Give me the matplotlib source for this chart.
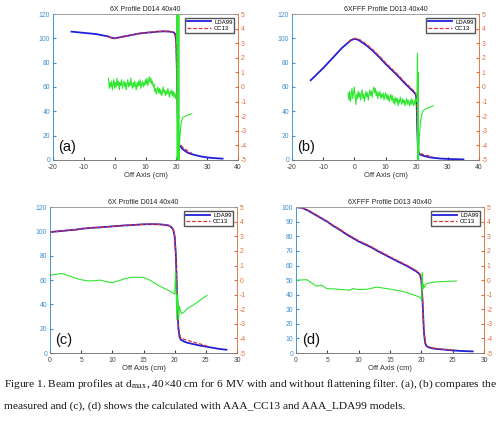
import matplotlib

matplotlib.use("Agg")

import matplotlib.pyplot as plt
import numpy as np

plt.rcParams["font.family"] = ["Liberation Sans", "DejaVu Sans"]
plt.rcParams["mathtext.fontset"] = "stix"
plt.rcParams["axes.unicode_minus"] = False

# ---- panel (a): 6X measured ----
a_lda_x = [-14, -12, -10, -8, -6, -4, -2, -1, 0, 1, 2, 4, 6, 8, 10, 12, 14, 16, 18, 19,
           19.5, 19.8, 20.0, 20.2, 20.4, 20.6, 20.8, 21.0, 21.5, 22, 23, 24, 26, 28, 30, 32, 35]
a_lda_y = [105.5, 105, 104.5, 104, 103.5, 102.5, 101.5, 100.5, 100, 100.5, 101, 102, 103, 104,
           104.5, 105, 105.5, 105.8, 105.5, 105, 104, 102, 95, 70, 40, 22, 15, 12, 10.5, 9,
           7, 5.5, 4, 2.8, 2, 1.5, 1.0]
a_cc_x = [-2, -1, 0, 1, 2, 4, 6, 8, 10, 12, 14, 16, 18, 19, 19.5, 19.8, 20.0, 20.2, 20.4,
          20.6, 20.8, 21.0, 21.5, 22, 23, 24, 25]
a_cc_y = [101.3, 100.3, 99.8, 100.3, 100.8, 102, 103, 104, 104.7, 105.2, 105.6, 105.8, 105.5,
          104.8, 103.5, 100, 90, 65, 38, 22, 16, 13.5, 12, 10.5, 8.5, 6.8, 5.5]
a_diff = [0.6, -0.1, 0.3, 0.0, 0.4, -0.2, 0.2, 0.5, -0.1, 0.3, 0.0, 0.6, 0.1, 0.4, -0.2, 0.3,
          0.1, 0.5, -0.1, 0.2, 0.4, 0.0, 0.3, -0.2, 0.2, 0.5, 0.0, 0.3, 0.1, 0.6, 0.2, -0.1,
          0.3, 0.0, 0.4, 0.1, -0.2, 0.3, 0.0, 0.4, 0.1, 0.5, -0.1, 0.2, 0.4, 0.0, 0.3, 0.1,
          0.5, 0.2, 0.6, 0.1, 0.4, 0.7, 0.3, 0.6, 0.2, 0.4, 0.0, 0.2, -0.3, -0.1, -0.5, -0.2,
          0.0, -0.4, -0.1, -0.5, -0.2, -0.6, -0.3, 0.0, -0.4, -0.2, -0.6, -0.3, -0.5, -0.1,
          -0.4, -0.7, -0.3, -0.5, -0.2, -0.6, -0.3, -0.7, -0.4, -0.8, -0.5]
a_spike_x = [20.1, 20.2, 20.3, 20.4, 20.5, 20.6, 20.7, 20.8, 20.9, 21.0, 21.2, 21.5, 22, 23, 24, 25]
a_spike_y = [3, 6, -6, 6, -6, 6, -6, 5, -5, -4, -3.3, -2.6, -2.1, -2.0, -1.9, -1.85]

# ---- panel (b): 6XFFF measured ----
b_lda_x = a_lda_x
b_lda_y = [65.5, 70.5, 75.5, 81, 86.5, 92, 96.5, 98.5, 99.5, 99, 97.5, 94, 89.5, 84.5, 79,
           74, 69, 63.5, 58.5, 56, 54.5, 53, 46, 25, 10, 6, 5, 4.5, 4, 3.5, 2.8, 2.2, 1.5,
           1.0, 0.8, 0.6, 0.4]
b_cc_x = a_cc_x
b_cc_y = [97, 99, 100, 99.7, 98.5, 95, 90.5, 85.5, 80, 75, 70, 64.5, 59.5, 57, 55.5, 53.8,
          47, 28, 12, 7.5, 6, 5.5, 5, 4.5, 3.8, 3.2, 2.7]
b_diff = [-0.4, -0.9, -0.3, -1.0, -0.5, -0.1, -0.8, -0.4, 0.0, -0.7, -1.2, -0.5, -0.8, -0.3,
          -0.7, -0.4, -0.9, -0.5, -0.2, -0.8, -0.5, -1.0, -0.6, -0.3, -0.7, -0.4, -0.9, -0.5,
          -0.2, -0.6, -0.3, -0.7, -0.2, 0.0, -0.4, -0.1, -0.6, -0.3, -0.8, -0.4, -0.6, -0.3,
          -0.8, -0.5, -0.7, -0.4, -0.9, -0.6, -0.4, -0.8, -0.5, -0.9, -0.6, -1.0, -0.7, -0.5,
          -0.9, -0.6, -1.1, -0.8, -1.2, -0.7, -1.0, -0.8, -1.3, -0.9, -1.1, -0.7, -1.0, -1.2,
          -0.8, -1.1, -0.9, -1.3, -1.0, -0.8, -1.2, -0.9, -1.1, -1.3, -0.9, -1.2, -0.8, -1.1,
          -1.3, -0.9, -1.2, -0.8, -1.0]
b_spike_x = [20.1, 20.25, 20.35, 20.45, 20.55, 20.7, 20.85, 21.0, 21.3, 21.6, 22, 23, 24, 25.3]
b_spike_y = [-1.0, 2.3, -5.5, 1.0, -5.5, -4.5, -3.5, -3.0, -2.3, -1.9, -1.65, -1.5, -1.4, -1.3]

# ---- panel (c): 6X calculated ----
c_lda_x = [0, 1, 2, 3, 4, 5, 6, 7, 8, 9, 10, 11, 12, 13, 14, 15, 16, 17, 18, 19, 19.5, 19.8,
           20.0, 20.2, 20.4, 20.6, 20.8, 21.0, 21.5, 22, 23, 24, 25, 26, 27, 28.3]
c_lda_y = [99.5, 100, 100.5, 101, 101.4, 102.2, 102.7, 103.1, 103.4, 103.8, 104.2, 104.6,
           105, 105.2, 105.6, 105.9, 106, 106, 105.7, 105, 103.5, 101, 96, 80, 45, 20, 13,
           11, 9.5, 8.5, 7.3, 6.2, 5.3, 4.4, 3.5, 2.7]
c_cc_x = [0, 1, 2, 3, 4, 5, 6, 7, 8, 9, 10, 11, 12, 13, 14, 15, 16, 17, 18, 19, 19.5, 19.8,
          20.0, 20.2, 20.4, 20.6, 20.8, 21.0, 21.5, 22, 23, 24, 25.2]
c_cc_y = [99.5, 100, 100.5, 101, 101.4, 102.2, 102.7, 103.1, 103.4, 103.8, 104.2, 104.6,
          105, 105.2, 105.6, 105.9, 106, 106, 105.7, 105, 103.5, 101, 96, 80, 46, 22, 15,
          12.5, 11.3, 10.5, 9, 7.6, 5.8]
c_diff_x = [0, 1, 1.9, 3, 4.8, 6, 7, 8, 9, 9.9, 11, 12, 12.9, 14, 15, 16, 17.1, 18, 19, 19.8,
            20.0, 20.15, 20.25, 20.35, 20.45, 20.55, 20.65, 20.75, 20.9, 21.1, 21.5, 22, 23,
            24, 25.2]
c_diff_y = [0.33, 0.4, 0.45, 0.3, 0.04, -0.05, -0.05, 0.0, -0.1, -0.18, -0.05, 0.1, 0.18,
            0.2, 0.18, 0.0, -0.3, -0.5, -0.7, -0.9, -0.95, 0.55, -1.0, -2.7, -1.0, -1.6,
            -2.7, -1.8, -2.04, -2.3, -2.2, -1.95, -1.7, -1.4, -1.05]

# ---- panel (d): 6XFFF calculated ----
d_lda_x = [0, 1, 2, 3, 4, 5, 6, 7, 8, 9, 10, 11, 12, 13, 14, 15, 16, 17, 18, 19, 19.5, 19.8,
           20.0, 20.2, 20.4, 20.6, 20.8, 21.0, 21.5, 22, 23, 24, 25, 26, 27, 28.2]
d_lda_y = [100, 99.5, 97.5, 95, 92.5, 90, 87, 84.5, 81.5, 79, 76.5, 74.5, 72.5, 70, 67.8,
           65.5, 63.3, 61.2, 59, 56.5, 55, 53.5, 50, 35, 15, 7, 5, 4.2, 3.5, 3.0, 2.6, 2.2,
           1.8, 1.5, 1.3, 1.1]
d_cc_x = [0, 1, 2, 3, 4, 5, 6, 7, 8, 9, 10, 11, 12, 13, 14, 15, 16, 17, 18, 19, 19.5, 19.8,
          20.0, 20.2, 20.4, 20.6, 20.8, 21.0, 21.5, 22, 23, 24, 25.3]
d_cc_y = [100, 99.6, 97.8, 95.3, 92.8, 90.3, 87.4, 84.9, 82, 79.5, 77, 75, 73, 70.5, 68.3,
          66, 63.8, 61.7, 59.5, 57, 55.5, 54, 50.5, 36, 16, 7.5, 5.3, 4.5, 3.8, 3.3, 2.8,
          2.4, 2.0]
d_diff_x = [0, 1.7, 3.3, 4.1, 4.9, 6.5, 8.6, 9.1, 10, 11.3, 12.9, 14, 15, 17.1, 19.2, 19.9,
            20.05, 20.15, 20.25, 20.35, 20.5, 20.8, 21.5, 22.4, 23.5, 25.6]
d_diff_y = [-0.01, 0.03, -0.42, -0.35, -0.58, -0.62, -0.69, -0.58, -0.65, -0.63, -0.48,
            -0.55, -0.62, -0.78, -1.08, -1.2, -1.4, 0.5, -0.6, -0.3, -0.5, -0.24, -0.18,
            -0.12, -0.1, -0.06]

titles = ["6X Profile D014 40x40", "6XFFF Profile D013 40x40",
          "6X Profile D014 40x40", "6XFFF Profile D013 40x40"]
tags = ["(a)", "(b)", "(c)", "(d)"]

caption = ("Figure 1. Beam profiles at d$_{\\mathrm{max}}$, 40\u00d740 cm for 6 MV with and "
           "without flattening filter. (a), (b) compares the")
caption2 = "measured and (c), (d) shows the calculated with AAA_CC13 and AAA_LDA99 models."

BLUE, RED, GREEN = "#2020d8", "#e03038", "#30e630"
LCOL, RCOL = "#3d8fd1", "#e0703d"

fig = plt.figure(figsize=(5.0, 4.38), dpi=100)
boxes = [[0.106, 0.635, 0.370, 0.333], [0.584, 0.635, 0.374, 0.333],
         [0.100, 0.194, 0.374, 0.333], [0.592, 0.194, 0.376, 0.333]]

panels = [
    (a_lda_x, a_lda_y, a_cc_x, a_cc_y,
     [np.linspace(-2, 20, len(a_diff)), a_spike_x], [a_diff, a_spike_y]),
    (b_lda_x, b_lda_y, b_cc_x, b_cc_y,
     [np.linspace(-2, 20, len(b_diff)), b_spike_x], [b_diff, b_spike_y]),
    (c_lda_x, c_lda_y, c_cc_x, c_cc_y, [c_diff_x], [c_diff_y]),
    (d_lda_x, d_lda_y, d_cc_x, d_cc_y, [d_diff_x], [d_diff_y]),
]

for i, (lx, ly, cx, cy, gx, gy) in enumerate(panels):
    ax = fig.add_axes(boxes[i])
    ax2 = ax.twinx()
    h1, = ax.plot(lx, ly, color=BLUE, lw=1.3, label="LDA99")
    h2, = ax.plot(cx, cy, color=RED, lw=0.9, ls="--", dashes=(3, 1.5), label="CC13")
    for xx, yy in zip(gx, gy):
        ax2.plot(xx, yy, color=GREEN, lw=0.8)
    if i < 2:
        ax.set_xlim(-20, 40)
        ax.set_xticks(np.arange(-20, 41, 10))
        ax.set_ylim(0, 120)
        ax.set_yticks(np.arange(0, 121, 20))
    else:
        ax.set_xlim(0, 30)
        ax.set_xticks(np.arange(0, 31, 5))
        if i == 2:
            ax.set_ylim(0, 120)
            ax.set_yticks(np.arange(0, 121, 20))
        else:
            ax.set_ylim(0, 100)
            ax.set_yticks(np.arange(0, 101, 10))
    ax2.set_ylim(-5, 5)
    ax2.set_yticks(np.arange(-5, 6, 1))
    ax.set_title(titles[i], fontsize=5, pad=2, color="#222222")
    ax.set_xlabel("Off Axis (cm)", fontsize=5.5, labelpad=0.5, color="#333333")
    ax.tick_params(axis="x", labelsize=4.9, colors="#444444", direction="in", length=2, pad=3)
    ax.tick_params(axis="y", labelsize=4.9, colors=LCOL, direction="in", length=2, pad=2)
    ax2.tick_params(axis="y", labelsize=4.9, colors=RCOL, direction="in", length=2, pad=2)
    for a in (ax, ax2):
        a.spines["left"].set_color(LCOL)
        a.spines["right"].set_color(RCOL)
        a.spines["top"].set_color("#999999")
        a.spines["bottom"].set_color("#777777")
        for s in a.spines.values():
            s.set_linewidth(0.5)
    ax2.legend([h1, h2], ["LDA99", "CC13"], loc="upper right", fontsize=4.3,
               handlelength=4, borderpad=0.3, labelspacing=0.2, handletextpad=0.5,
               fancybox=False, edgecolor="#555555", framealpha=1, borderaxespad=0.6)
    ax2.text(0.03, 0.04, tags[i], transform=ax.transAxes, fontsize=10.5,
             ha="left", va="bottom", color="#111111")

fig.text(0.008, 0.123, caption, fontsize=8.2, family=["Liberation Serif", "DejaVu Serif"],
         va="center", ha="left", color="#111111")
fig.text(0.008, 0.073, caption2, fontsize=8.2, family=["Liberation Serif", "DejaVu Serif"],
         va="center", ha="left", color="#111111")

fig.savefig("out.png", dpi=100)
